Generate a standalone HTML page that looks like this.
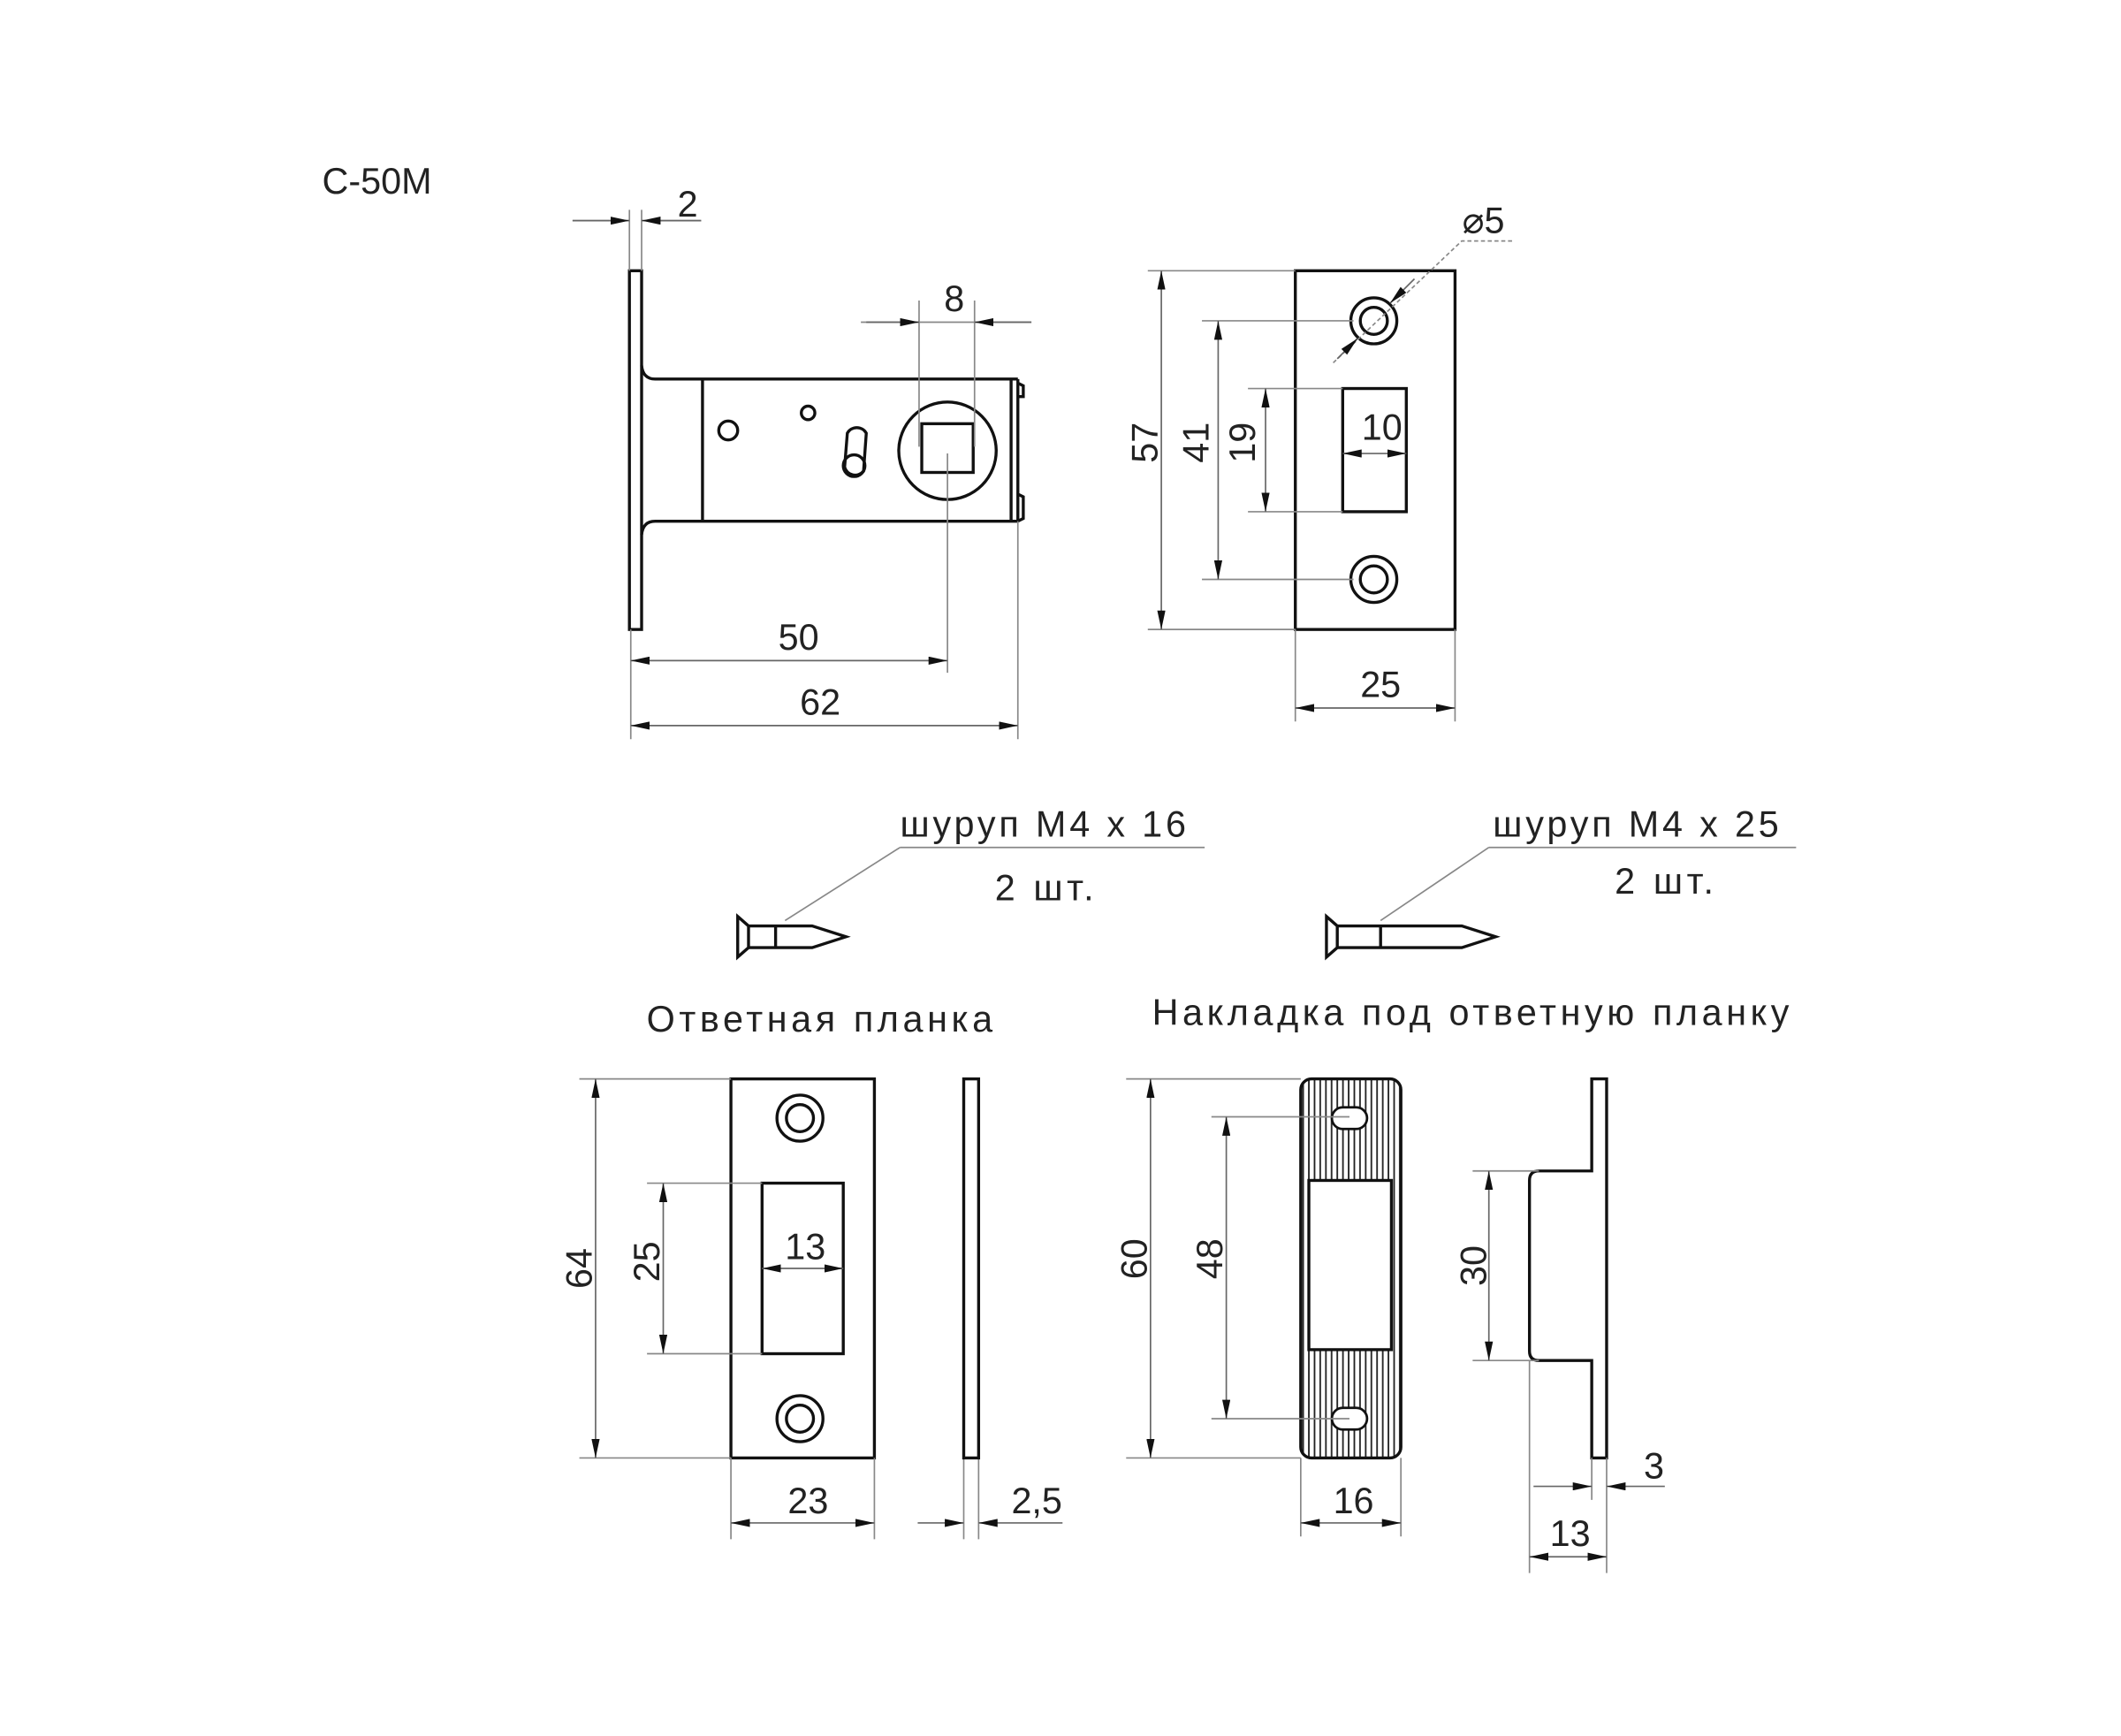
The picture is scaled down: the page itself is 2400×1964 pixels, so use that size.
<!DOCTYPE html>
<html><head><meta charset="utf-8"><style>
html,body{margin:0;padding:0;background:#fff;}
svg{display:block;}
text{font-family:"Liberation Sans","DejaVu Sans",sans-serif;font-size:27px;fill:#222;}
.o{fill:none;stroke:#111;stroke-width:2.2;}
.d{fill:none;stroke:#888;stroke-width:1.1;}
.a{fill:none;stroke:#666;stroke-width:1.1;marker-start:url(#ar);marker-end:url(#ar);}
.a1{fill:none;stroke:#666;stroke-width:1.1;marker-end:url(#ar);}
</style></head><body>
<svg width="2400" height="1964" viewBox="0 0 1567 1282.4" xmlns="http://www.w3.org/2000/svg">
<defs>
<marker id="ar" viewBox="0 0 14 6" refX="14" refY="3" markerWidth="14" markerHeight="6" markerUnits="userSpaceOnUse" orient="auto-start-reverse"><path d="M0,0 L14,3 L0,6 z" fill="#111"/></marker>
<pattern id="hatch" width="4.2" height="10" patternUnits="userSpaceOnUse"><rect width="4.2" height="10" fill="#fff"/><line x1="1" y1="0" x2="1" y2="10" stroke="#222" stroke-width="1.2"/></pattern>
</defs>

<text x="238" y="143" font-size="27">C-50M</text>

<rect class="o" x="465" y="200" width="9" height="265"/>
<path class="o" d="M474,270 Q475,280 484,280 L752,280 M474,395 Q475,385 484,385 L752,385 M519,280 L519,385 M747,280 L747,385 M752,280 L752,385 M752,283 L756,285 L756,293 L752,293 M752,365 L756,367 L756,383 L752,385"/>
<circle class="o" cx="538" cy="318" r="7" stroke-width="1.6"/>
<circle class="o" cx="597" cy="305" r="5" stroke-width="1.6"/>
<path class="o" stroke-width="1.6" d="M624,345 L626,320 A8,8 0 0 1 640,320 L638,348 A8,8 0 0 1 624,345"/>
<circle class="o" cx="631" cy="344" r="8" stroke-width="1.6"/>
<circle class="o" cx="700" cy="333" r="36" stroke-width="1.4"/>
<rect class="o" x="681" y="313" width="38" height="36" stroke-width="2.8"/>
<path class="d" d="M465,155 V200 M474,155 V200 M423,163 H465 M474,163 H518"/>
<path class="a1" d="M423,163 H465"/><path class="a1" d="M518,163 H474"/>
<text x="508" y="160" text-anchor="middle">2</text>
<path class="d" d="M679,222 V330 M720,222 V330 M636,238 H762"/>
<path class="a1" d="M640,238 H679"/><path class="a1" d="M762,238 H720"/>
<text x="705" y="230" text-anchor="middle">8</text>
<path class="d" d="M700,335 V497 M466,465 V546 M752,385 V546"/>
<path class="a" d="M466,488 H700"/>
<text x="590" y="480" text-anchor="middle">50</text>
<path class="a" d="M466,536 H752"/>
<text x="606" y="528" text-anchor="middle">62</text>

<rect class="o" x="957" y="200" width="118" height="265"/>
<circle class="o" cx="1015" cy="237" r="17" stroke-width="1.8"/><circle class="o" cx="1015" cy="237" r="10" stroke-width="1.8"/>
<circle class="o" cx="1015" cy="428" r="17" stroke-width="1.8"/><circle class="o" cx="1015" cy="428" r="10" stroke-width="1.8"/>
<rect class="o" x="992" y="287" width="47" height="91" stroke-width="2.6"/>
<path class="d" d="M848,200 H957 M848,465 H957 M888,237 H1000 M888,428 H1000 M922,287 H992 M922,378 H992 M957,465 V533 M1075,465 V533"/>
<path class="a" d="M858,200 V465"/><text transform="translate(855,327) rotate(-90)" text-anchor="middle">57</text>
<path class="a" d="M900,237 V428"/><text transform="translate(893,327) rotate(-90)" text-anchor="middle">41</text>
<path class="a" d="M935,287 V378"/><text transform="translate(927,327) rotate(-90)" text-anchor="middle">19</text>
<path class="a" d="M992,335 H1039"/><text x="1021" y="325" text-anchor="middle">10</text>
<path class="d" stroke-dasharray="3,2" d="M985,268 L1080,178 H1118"/>
<path class="a1" d="M988,265 L1003,250"/><path class="a1" d="M1045,206 L1027,224"/>
<text x="1096" y="172" text-anchor="middle">⌀5</text>
<path class="a" d="M957,523 H1075"/><text x="1020" y="515" text-anchor="middle">25</text>

<text x="665" y="618" letter-spacing="2.5">шуруп M4 x 16</text>
<path class="d" d="M665,626 H890 M665,626 L580,680"/>
<text x="735" y="665" letter-spacing="3">2 шт.</text>
<path class="o" stroke-width="1.6" d="M545,677 L553,684 L553,700 L545,707 Z M553,684 H600 L625,692 L600,700 H553 M573,684 V700"/>
<text x="1103" y="618" letter-spacing="2.5">шуруп M4 x 25</text>
<path class="d" d="M1100,626 H1327 M1100,626 L1020,680"/>
<text x="1193" y="660" letter-spacing="3">2 шт.</text>
<path class="o" stroke-width="1.6" d="M980,677 L988,684 L988,700 L980,707 Z M988,684 H1080 L1105,692 L1080,700 H988 M1020,684 V700"/>

<text x="607" y="762" text-anchor="middle" letter-spacing="3">Ответная планка</text>
<text x="1088" y="757" text-anchor="middle" letter-spacing="3">Накладка под ответную планку</text>

<rect class="o" x="540" y="797" width="106" height="280"/>
<circle class="o" cx="591" cy="826" r="17" stroke-width="1.8"/><circle class="o" cx="591" cy="826" r="10" stroke-width="1.8"/>
<circle class="o" cx="591" cy="1048" r="17" stroke-width="1.8"/><circle class="o" cx="591" cy="1048" r="10" stroke-width="1.8"/>
<rect class="o" x="563" y="874" width="60" height="126" stroke-width="2.4"/>
<path class="d" d="M428,797 H540 M428,1077 H540 M478,874 H563 M478,1000 H563 M540,1077 V1137 M646,1077 V1137 M712,1077 V1137 M723,1077 V1137"/>
<path class="a" d="M440,797 V1077"/><text transform="translate(437,937) rotate(-90)" text-anchor="middle">64</text>
<path class="a" d="M490,874 V1000"/><text transform="translate(487,932) rotate(-90)" text-anchor="middle">25</text>
<path class="a" d="M563,937 H623"/><text x="595" y="930" text-anchor="middle">13</text>
<path class="a" d="M540,1125 H646"/><text x="597" y="1118" text-anchor="middle">23</text>
<rect class="o" x="712" y="797" width="11" height="280"/>
<path class="a1" d="M678,1125 H712"/><path class="a1" d="M785,1125 H723"/>
<text x="766" y="1118" text-anchor="middle">2,5</text>

<rect x="961" y="797" width="74" height="280" rx="8" fill="url(#hatch)" stroke="#111" stroke-width="2.2"/>
<rect x="967" y="872" width="61" height="125" fill="#fff" stroke="#111" stroke-width="2.2"/>
<rect x="984" y="818" width="26" height="16" rx="8" fill="#fff" stroke="#111" stroke-width="1.8"/>
<rect x="984" y="1040" width="26" height="16" rx="8" fill="#fff" stroke="#111" stroke-width="1.8"/>
<path class="d" d="M832,797 H961 M832,1077 H961 M895,825 H997 M895,1048 H997 M961,1077 V1135 M1035,1077 V1135"/>
<path class="a" d="M850,797 V1077"/><text transform="translate(847,930) rotate(-90)" text-anchor="middle">60</text>
<path class="a" d="M906,825 V1048"/><text transform="translate(903,930) rotate(-90)" text-anchor="middle">48</text>
<path class="a" d="M961,1125 H1035"/><text x="1000" y="1118" text-anchor="middle">16</text>
<path class="o" d="M1176,797 V865 H1137 Q1130,865 1130,872 V998 Q1130,1005 1137,1005 H1176 V1077 H1187 V797 Z"/>
<path class="d" d="M1088,865 H1137 M1088,1005 H1137 M1130,1005 V1162 M1176,1077 V1108 M1187,1077 V1162"/>
<path class="a" d="M1100,865 V1005"/><text transform="translate(1098,935) rotate(-90)" text-anchor="middle">30</text>
<path class="a1" d="M1133,1098 H1176"/><path class="a1" d="M1230,1098 H1187"/>
<text x="1222" y="1092" text-anchor="middle">3</text>
<path class="a" d="M1130,1150 H1187"/><text x="1160" y="1142" text-anchor="middle">13</text>
</svg>
</body></html>
